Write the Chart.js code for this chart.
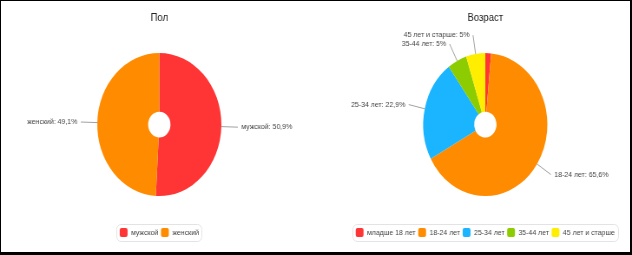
<!DOCTYPE html>
<html>
<head>
<meta charset="utf-8">
<script src="https://cdn.jsdelivr.net/npm/chart.js@4"></script>
<style>
  html, body { margin: 0; padding: 0; background: #fff; }
  #wrap { position: relative; width: 632px; height: 255px; overflow: hidden; }
  #wrap canvas { position: absolute; top: 0; }
  #frame { position: absolute; left: 0; top: 0; right: 0; bottom: 0; border: solid #000; border-width: 1px 2px 3px 1px; pointer-events: none; }
</style>
</head>
<body>
<div id="wrap">
  <canvas id="gender" width="364" height="255" style="left:0;width:316px;height:255px"></canvas>
  <canvas id="age" width="364" height="255" style="left:316px;width:316px;height:255px"></canvas>
  <div id="frame"></div>
</div>
<script>
const genderLabels = ['мужской', 'женский'];
const genderValues = [50.9, 49.1];
const genderColors = ['#ff3535', '#ff8c00'];

const ageLabels = ['младше 18 лет', '18-24 лет', '25-34 лет', '35-44 лет', '45 лет и старше'];
const ageValues = [1.5, 65.6, 22.9, 5, 5];
const ageColors = ['#ff3535', '#ff8c00', '#1ab4ff', '#8ccc00', '#ffee00'];

const FONT = '"Liberation Sans", Arial, sans-serif';

// labels outside the pie with a connector line
const calloutLabels = {
  id: 'calloutLabels',
  afterDatasetsDraw(chart, args, opts) {
    const ctx = chart.ctx;
    const ds = chart.data.datasets[0];
    ctx.save();
    ctx.font = '8px ' + FONT;
    ctx.textBaseline = 'middle';
    chart.getDatasetMeta(0).data.forEach((arc, i) => {
      const value = ds.data[i];
      if (value < opts.minValue) return;
      const { x, y, startAngle, endAngle, outerRadius } =
        arc.getProps(['x', 'y', 'startAngle', 'endAngle', 'outerRadius'], true);
      const mid = (startAngle + endAngle) / 2;
      const cos = Math.cos(mid), sin = Math.sin(mid);
      const x1 = x + cos * outerRadius, y1 = y + sin * outerRadius;
      const x2 = x + cos * (outerRadius + opts.distance), y2 = y + sin * (outerRadius + opts.distance);
      ctx.strokeStyle = '#a0a0a0';
      ctx.lineWidth = 1;
      ctx.beginPath();
      ctx.moveTo(x1, y1);
      ctx.lineTo(x2, y2);
      ctx.stroke();
      const right = cos >= 0;
      ctx.textAlign = right ? 'left' : 'right';
      ctx.fillStyle = '#444';
      const text = chart.data.labels[i] + ': ' + String(value).replace('.', ',') + '%';
      ctx.fillText(text, x2 + (right ? 4 : -4), y2);
    });
    ctx.restore();
  }
};

// rounded frame around the legend items
const legendFrame = {
  id: 'legendFrame',
  afterDraw(chart) {
    const boxes = chart.legend.legendHitBoxes;
    if (!boxes || !boxes.length) return;
    const ctx = chart.ctx;
    const left = Math.min(...boxes.map((b) => b.left)) - 4;
    const right = Math.max(...boxes.map((b) => b.left + b.width)) + 3;
    const top = boxes[0].top - 4;
    const bottom = boxes[0].top + boxes[0].height + 4;
    ctx.save();
    ctx.strokeStyle = '#e3e3e3';
    ctx.lineWidth = 1;
    ctx.beginPath();
    ctx.roundRect(Math.round(left) + 0.5, Math.round(top) + 0.5, Math.round(right - left), Math.round(bottom - top), 5);
    ctx.stroke();
    ctx.restore();
  }
};

function pieConfig(title, labels, values, colors, padLeft) {
  return {
    type: 'doughnut',
    data: {
      labels: labels,
      datasets: [{
        data: values,
        backgroundColor: colors,
        borderWidth: 0,
        radius: 71.5,
        cutout: '18%'
      }]
    },
    options: {
      responsive: false,
      animation: false,
      layout: { padding: { left: padLeft, right: 0, top: 0, bottom: 8 } },
      plugins: {
        title: {
          display: true,
          text: title,
          color: '#222',
          font: { family: FONT, size: 11, weight: 'normal' },
          padding: { top: 11, bottom: 0 }
        },
        legend: {
          position: 'bottom',
          labels: {
            boxWidth: 9,
            boxHeight: 9,
            useBorderRadius: true,
            borderRadius: 2,
            padding: 3,
            color: '#444',
            font: { family: FONT, size: 8 }
          }
        },
        tooltip: { enabled: false },
        calloutLabels: { distance: 19, minValue: 2 }
      }
    },
    plugins: [calloutLabels, legendFrame]
  };
}

new Chart(document.getElementById('gender'), pieConfig('Пол', genderLabels, genderValues, genderColors, 3));
new Chart(document.getElementById('age'), pieConfig('Возраст', ageLabels, ageValues, ageColors, 26));
</script>
</body>
</html>
